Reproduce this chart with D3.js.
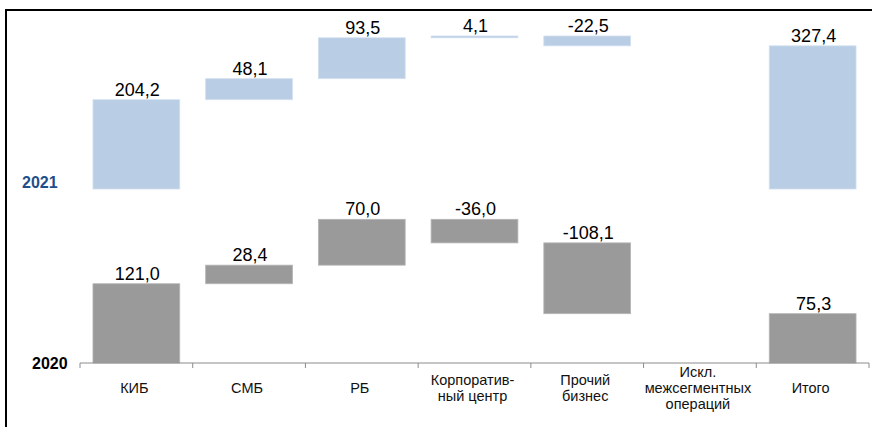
<!DOCTYPE html>
<html>
<head>
<meta charset="utf-8">
<script src="https://cdn.jsdelivr.net/npm/d3@7"></script>
<style>
  body { margin: 0; background: #fff; }
  svg { display: block; font-family: Arial, "Liberation Sans", sans-serif; }
</style>
</head>
<body>
<div id="chart"></div>
<script>
(function() {
  "use strict";

  var categories = ["КИБ", "СМБ", "РБ", "Корпоратив-\nный центр", "Прочий\nбизнес", "Искл.\nмежсегментных\nопераций", "Итого"];
  var values2021 = [204.2, 48.1, 93.5, 4.1, -22.5, 0, 327.4];
  var values2020 = [121.0, 28.4, 70.0, -36.0, -108.1, 0, 75.3];
  var isTotal = [false, false, false, false, false, false, true];
  var years = ["2021", "2020"];

  var width = 872, height = 427;

  var locale = d3.formatLocale({ decimal: ",", thousands: " ", grouping: [3], currency: ["", ""], minus: "-" });
  var fmt = locale.format(".1f");

  // running totals for the waterfall steps
  var steps = function(values) {
    var run = 0;
    return values.map(function(v, i) {
      var d = { i: i, value: v };
      if (isTotal[i]) { d.y0 = 0; d.y1 = v; }
      else { d.y0 = run; d.y1 = run + v; run += v; }
      d.top = Math.max(d.y0, d.y1);
      d.bottom = Math.min(d.y0, d.y1);
      return d;
    });
  };

  var s2021 = steps(values2021);
  var s2020 = steps(values2020);

  var svg = d3.select("#chart")
    .append("svg")
    .attr("width", width)
    .attr("height", height);

  // frame (only top and left edges are visible)
  svg.append("path")
    .attr("d", "M6," + height + "V10H" + width)
    .attr("fill", "none")
    .attr("stroke", "#000")
    .attr("stroke-width", 2);

  var x = d3.scaleBand()
    .domain(d3.range(categories.length))
    .range([80, 869])
    .paddingInner(0.23)
    .paddingOuter(0.115);

  var y2021 = d3.scaleLinear()
    .domain([0, d3.max(s2021, function(d) { return d.top; })])
    .range([189, 36]);

  var y2020 = d3.scaleLinear()
    .domain([0, d3.max(s2020, function(d) { return d.top; })])
    .range([363, 219.3]);

  var drawSeries = function(data, y, fill, stroke) {
    var g = svg.append("g");
    var shown = data.filter(function(d) { return d.value !== 0; });

    g.selectAll("rect")
      .data(shown)
      .enter().append("rect")
      .attr("x", function(d) { return x(d.i); })
      .attr("width", x.bandwidth())
      .attr("y", function(d) { return y(d.top); })
      .attr("height", function(d) { return Math.max(1, y(d.bottom) - y(d.top)); })
      .attr("fill", fill)
      .attr("stroke", stroke)
      .attr("stroke-width", 0.8);

    g.selectAll("text")
      .data(shown)
      .enter().append("text")
      .attr("x", function(d) { return x(d.i) + x.bandwidth() / 2 + 1; })
      .attr("y", function(d) { return y(d.top) - 4; })
      .attr("text-anchor", "middle")
      .style("font-size", "18px")
      .attr("fill", "#000")
      .text(function(d) { return fmt(d.value); });
  };

  drawSeries(s2021, y2021, "#b9cde5", "#d2dff0");
  drawSeries(s2020, y2020, "#9a9a9a", "#b5b5b5");

  // axis along 2020 baseline, ticks between categories
  var step = x.step();
  var x0 = x.range()[0];
  var axis = svg.append("g").attr("stroke", "#8c8c8c");
  axis.append("line")
    .attr("x1", x0).attr("x2", x.range()[1])
    .attr("y1", y2020(0)).attr("y2", y2020(0));
  axis.selectAll("line.tick")
    .data(d3.range(categories.length + 1))
    .enter().append("line")
    .attr("class", "tick")
    .attr("x1", function(d) { return x0 + d * step; })
    .attr("x2", function(d) { return x0 + d * step; })
    .attr("y1", y2020(0))
    .attr("y2", y2020(0) + 5);

  // category labels
  var lineH = 16;
  var catLabels = svg.selectAll(".cat")
    .data(categories)
    .enter().append("text")
    .attr("class", "cat")
    .attr("text-anchor", "middle")
    .style("font-size", "14.5px")
    .attr("fill", "#111");
  catLabels.each(function(d, i) {
    var lines = d.split("\n");
    var cx = x(i) + x.bandwidth() / 2 - 2;
    var first = 388 + 5 - (lines.length - 1) * lineH / 2;
    d3.select(this).selectAll("tspan")
      .data(lines)
      .enter().append("tspan")
      .attr("x", cx)
      .attr("y", function(l, k) { return first + k * lineH; })
      .text(function(l) { return l; });
  });

  // year labels
  svg.append("text")
    .attr("x", 22).attr("y", y2021(0) - 1)
    .style("font-size", "16px").style("font-weight", "bold")
    .attr("fill", "#1f4e8c")
    .text(years[0]);
  svg.append("text")
    .attr("x", 32).attr("y", y2020(0) + 6)
    .style("font-size", "16px").style("font-weight", "bold")
    .attr("fill", "#000")
    .text(years[1]);
})();
</script>
</body>
</html>
